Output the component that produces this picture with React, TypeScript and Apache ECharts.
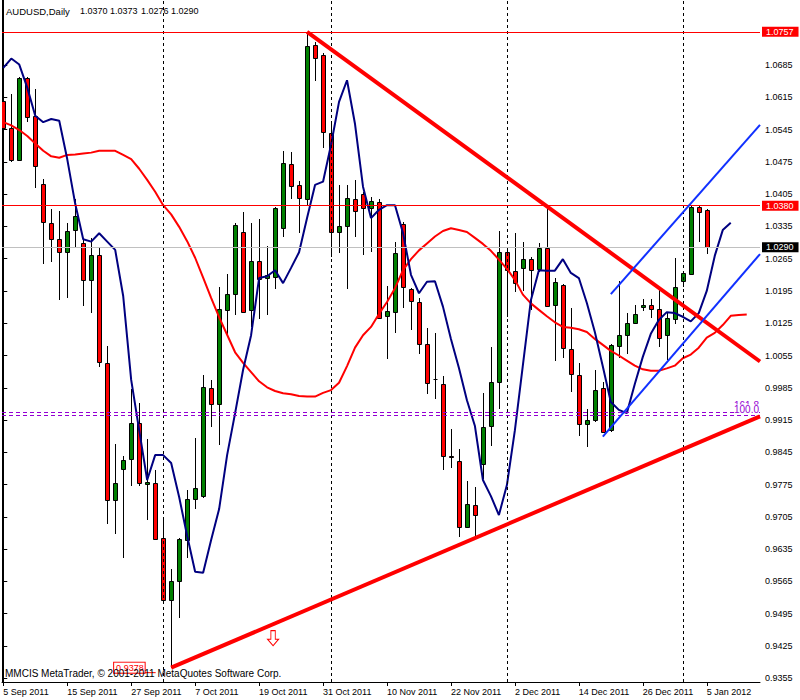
import React, { useEffect, useRef } from "react";
import * as echarts from "echarts";

// ---- data (bar index 0 = 5 Sep 2011, daily bars) ----
const symbolName = "AUDUSD,Daily";
const dateTickBars = [0, 8, 16, 24, 32, 40, 48, 56, 64, 72, 80, 88];
const dateTickLabels = ["5 Sep 2011", "15 Sep 2011", "27 Sep 2011", "7 Oct 2011", "19 Oct 2011", "31 Oct 2011", "10 Nov 2011", "22 Nov 2011", "2 Dec 2011", "14 Dec 2011", "26 Dec 2011", "5 Jan 2012"];
const priceTicks = [1.0685, 1.0615, 1.0545, 1.0475, 1.0405, 1.0335, 1.0265, 1.0195, 1.0125, 1.0055, 0.9985, 0.9915, 0.9845, 0.9775, 0.9705, 0.9635, 0.9565, 0.9495, 0.9425, 0.9355];
const monthStartBars = [20, 41, 63, 85];

const opens = [1.0607, 1.0548, 1.0480, 1.0656, 1.0574, 1.0428, 1.0342, 1.0307, 1.0279, 1.0327, 1.0298, 1.0218, 1.0272, 1.0038, 0.9741, 0.9808, 0.9830, 0.9908, 0.9776, 0.9778, 0.9659, 0.9524, 0.9567, 0.9654, 0.9743, 0.9750, 0.9984, 0.9949, 1.0153, 1.0188, 1.0322, 1.0154, 1.0260, 1.0222, 1.0226, 1.0331, 1.0470, 1.0425, 1.0394, 1.0728, 1.0707, 1.0537, 1.0323, 1.0336, 1.0394, 1.0405, 1.0374, 1.0387, 1.0141, 1.0149, 1.0340, 1.0199, 1.0172, 1.0079, 1.0005, 0.9993, 0.9837, 0.9826, 0.9684, 0.9731, 0.9819, 0.9903, 0.9997, 1.0279, 1.0238, 1.0245, 1.0264, 1.0242, 1.0289, 1.0164, 1.0207, 1.0070, 1.0012, 0.9906, 0.9915, 0.9984, 0.9893, 1.0076, 1.0099, 1.0126, 1.0160, 1.0164, 1.0155, 1.0099, 1.0134, 1.0217, 1.0231, 1.0378, 1.0370];
const highs = [1.0616, 1.0622, 1.0659, 1.0659, 1.0632, 1.0437, 1.0372, 1.0368, 1.0342, 1.0394, 1.0308, 1.0310, 1.0290, 1.0076, 0.9863, 0.9836, 0.9982, 0.9951, 0.9873, 0.9806, 0.9702, 0.9591, 0.9660, 0.9763, 0.9877, 1.0013, 1.0002, 1.0204, 1.0231, 1.0343, 1.0367, 1.0343, 1.0350, 1.0292, 1.0377, 1.0498, 1.0497, 1.0433, 1.0757, 1.0735, 1.0711, 1.0562, 1.0424, 1.0424, 1.0436, 1.0410, 1.0399, 1.0394, 1.0205, 1.0301, 1.0345, 1.0201, 1.0179, 1.0114, 1.0103, 1.0011, 0.9895, 0.9852, 0.9783, 0.9770, 0.9973, 1.0074, 1.0325, 1.0290, 1.0320, 1.0302, 1.0268, 1.0300, 1.0378, 1.0222, 1.0209, 1.0157, 1.0039, 0.9940, 1.0024, 0.9998, 1.0081, 1.0217, 1.0147, 1.0165, 1.0178, 1.0178, 1.0201, 1.0147, 1.0267, 1.0236, 1.0380, 1.0380, 1.0373];
const lows = [1.0509, 1.0475, 1.0478, 1.0562, 1.0418, 1.0253, 1.0258, 1.0175, 1.0179, 1.0291, 1.0163, 1.0147, 1.0031, 0.9689, 0.9667, 0.9616, 0.9773, 0.9773, 0.9698, 0.9654, 0.9522, 0.9378, 0.9485, 0.9616, 0.9723, 0.9747, 0.9901, 0.9861, 1.0099, 1.0142, 1.0147, 1.0116, 1.0134, 1.0142, 1.0199, 1.0311, 1.0394, 1.0320, 1.0381, 1.0651, 1.0504, 1.0269, 1.0277, 1.0199, 1.0313, 1.0273, 1.0279, 1.0134, 1.0048, 1.0103, 1.0159, 1.0110, 1.0058, 0.9971, 0.9960, 0.9807, 0.9810, 0.9662, 0.9680, 0.9659, 0.9787, 0.9859, 0.9939, 1.0139, 1.0193, 1.0195, 1.0154, 1.0237, 1.0160, 1.0044, 1.0049, 0.9976, 0.9881, 0.9857, 0.9910, 0.9887, 0.9889, 1.0049, 1.0058, 1.0123, 1.0152, 1.0137, 1.0074, 1.0045, 1.0123, 1.0204, 1.0229, 1.0302, 1.0276];
const closes = [1.0548, 1.0480, 1.0656, 1.0572, 1.0465, 1.0344, 1.0307, 1.0279, 1.0324, 1.0357, 1.0219, 1.0272, 1.0040, 0.9741, 0.9779, 0.9828, 0.9908, 0.9778, 0.9781, 0.9656, 0.9524, 0.9567, 0.9658, 0.9744, 0.9767, 0.9987, 0.9949, 1.0155, 1.0188, 1.0338, 1.0150, 1.0260, 1.0220, 1.0229, 1.0374, 1.0472, 1.0423, 1.0396, 1.0726, 1.0700, 1.0539, 1.0323, 1.0336, 1.0396, 1.0369, 1.0374, 1.0389, 1.0137, 1.0152, 1.0277, 1.0203, 1.0173, 1.0080, 0.9995, 1.0003, 0.9838, 0.9835, 0.9684, 0.9733, 0.9708, 0.9901, 0.9998, 1.0279, 1.0240, 1.0212, 1.0264, 1.0240, 1.0289, 1.0162, 1.0214, 1.0071, 1.0015, 0.9906, 0.9915, 0.9980, 0.9890, 1.0078, 1.0099, 1.0125, 1.0144, 1.0165, 1.0155, 1.0092, 1.0136, 1.0203, 1.0233, 1.0378, 1.0367, 1.0290];

// navy shifted moving average (bars 0..91)
const navyMA = [1.0679, 1.0699, 1.0686, 1.0636, 1.0575, 1.0561, 1.0568, 1.0564, 1.0481, 1.0384, 1.0307, 1.0302, 1.0320, 1.0302, 1.0284, 1.0184, 1.0002, 0.9893, 0.9785, 0.9839, 0.9839, 0.9822, 0.9748, 0.9664, 0.9586, 0.9584, 0.9655, 0.9722, 0.9839, 0.9930, 1.0024, 1.0099, 1.0223, 1.0227, 1.0240, 1.0212, 1.0245, 1.0279, 1.0353, 1.0425, 1.0432, 1.0512, 1.0605, 1.0652, 1.0557, 1.0421, 1.0353, 1.0371, 1.0381, 1.0381, 1.0321, 1.0230, 1.0190, 1.0215, 1.0216, 1.0161, 1.0091, 1.0028, 0.9958, 0.9902, 0.9785, 0.9750, 0.9709, 0.9774, 0.9893, 1.0034, 1.0175, 1.0240, 1.0239, 1.0239, 1.0264, 1.0234, 1.0223, 1.0169, 1.0106, 1.0031, 0.9954, 0.9937, 0.9930, 0.9993, 1.0052, 1.0102, 1.0132, 1.0149, 1.0147, 1.0139, 1.0129, 1.0147, 1.0195, 1.0271, 1.0327, 1.0343];
// red shifted moving average (bars 0..93)
const redMA = [1.0561, 1.0554, 1.0544, 1.0531, 1.0515, 1.0499, 1.0487, 1.0484, 1.0490, 1.0491, 1.0493, 1.0495, 1.0499, 1.0499, 1.0499, 1.0490, 1.0481, 1.0460, 1.0436, 1.0410, 1.0381, 1.0361, 1.0334, 1.0303, 1.0267, 1.0224, 1.0180, 1.0138, 1.0100, 1.0062, 1.0039, 1.0019, 0.9999, 0.9986, 0.9978, 0.9973, 0.9971, 0.9967, 0.9966, 0.9966, 0.9974, 0.9980, 0.9996, 1.0032, 1.0072, 1.0099, 1.0117, 1.0145, 1.0171, 1.0201, 1.0240, 1.0264, 1.0283, 1.0298, 1.0313, 1.0325, 1.0331, 1.0327, 1.0323, 1.0310, 1.0297, 1.0282, 1.0263, 1.0243, 1.0219, 1.0187, 1.0168, 1.0154, 1.0140, 1.0127, 1.0117, 1.0115, 1.0112, 1.0106, 1.0091, 1.0078, 1.0065, 1.0055, 1.0044, 1.0033, 1.0025, 1.0022, 1.0022, 1.0027, 1.0033, 1.0049, 1.0057, 1.0072, 1.0094, 1.0104, 1.0121, 1.0141, 1.0143, 1.0144];

// trend lines [bar, price]
const descTrend = [[38, 1.0757], [94.66, 1.0042]];
const ascTrend = [[21, 0.9378], [94.66, 0.9923]];
const channelUpper = [[76, 1.0188], [94.66, 1.0555]];
const channelLower = [[75, 0.9879], [94.66, 1.0275]];

const resistanceHigh = 1.0757;
const resistanceMid = 1.0380;
const bidPrice = 1.0290;
const fiboLevels = [0.9933, 0.9925];
const fiboLabels = ["161.8", "100.0"];
const lowMarkBar = 21;
const arrowPos = [33.75, 0.9442];

const FONT = '"Liberation Sans", Arial, sans-serif';

export default function App() {
  const ref = useRef<HTMLDivElement>(null);
  useEffect(() => {
    const chart = echarts.init(ref.current!, null, { renderer: "svg" });
    const n = opens.length;
    const candleData = opens.map((o, i) => [i, o, closes[i], lows[i], highs[i]]);
    const last = n - 1;
    const ohlcText = [opens[last], highs[last], lows[last], closes[last]].map((v) => v.toFixed(4));
    const ohlcX = [80, 110, 141, 171];

    const priceLabel = (bg: string) => ({
      show: true,
      position: "end",
      distance: 2,
      formatter: (p: any) => Number(p.value).toFixed(4),
      backgroundColor: bg,
      color: "#ffffff",
      fontFamily: FONT,
      fontSize: 9,
      padding: [1, 5, 0, 4],
    });

    const option: any = {
      animation: false,
      backgroundColor: "#ffffff",
      grid: { left: 2, right: 40, top: 0, bottom: 18, containLabel: false },
      xAxis: {
        type: "value",
        min: -0.16,
        max: 94.66,
        axisLine: { show: true, lineStyle: { color: "#000", width: 1 } },
        axisTick: { show: true, customValues: dateTickBars, length: 4, lineStyle: { color: "#000" } },
        axisLabel: {
          show: true,
          customValues: dateTickBars,
          formatter: (v: number) => dateTickLabels[dateTickBars.indexOf(Math.round(v))] || "",
          align: "left",
          margin: 5,
          color: "#000",
          fontFamily: FONT,
          fontSize: 9,
        },
        splitLine: { show: false },
      },
      yAxis: [
        {
          type: "value",
          position: "right",
          min: 0.93469,
          max: 1.0826,
          axisLine: { show: true, lineStyle: { color: "#000", width: 1 } },
          axisTick: { show: true, customValues: priceTicks, length: 4, lineStyle: { color: "#000" } },
          axisLabel: {
            show: true,
            customValues: priceTicks,
            formatter: (v: number) => v.toFixed(4),
            margin: 5,
            color: "#000",
            fontFamily: FONT,
            fontSize: 9,
          },
          splitLine: { show: false },
        },
        {
          type: "value",
          position: "left",
          min: 0.93469,
          max: 1.0826,
          axisLine: { show: true, lineStyle: { color: "#000", width: 1 } },
          axisTick: { show: false },
          axisLabel: { show: false },
          splitLine: { show: false },
        },
      ],
      series: [
        {
          type: "line",
          name: "levels",
          data: [],
          z: 1,
          markLine: {
            silent: true,
            precision: 4,
            symbol: ["none", "none"],
            data: [
              ...monthStartBars.map((b) => ({ xAxis: b, lineStyle: { color: "#000", width: 1, type: [3, 3] }, label: { show: false } })),
              { yAxis: bidPrice, lineStyle: { color: "#c0c0c0", width: 1, type: "solid" }, label: priceLabel("#000000") },
              { yAxis: fiboLevels[0], lineStyle: { color: "#9400d3", width: 1, type: [4, 3] }, label: { show: true, position: "insideEndTop", distance: 1, formatter: fiboLabels[0], color: "#9400d3", fontFamily: FONT, fontSize: 10 } },
              { yAxis: fiboLevels[1], lineStyle: { color: "#9400d3", width: 1, type: [4, 3] }, label: { show: true, position: "insideEndTop", distance: 1, formatter: fiboLabels[1], color: "#9400d3", backgroundColor: "#ffffff", padding: [0, 0, 0, 0], fontFamily: FONT, fontSize: 10 } },
            ],
          },
        },
        {
          type: "custom",
          name: "candles",
          z: 2,
          clip: true,
          data: candleData,
          encode: { x: 0, y: [1, 2, 3, 4] },
          renderItem: (params: any, api: any) => {
            const i = api.value(0);
            const o = api.value(1), c = api.value(2), l = api.value(3), h = api.value(4);
            const pO = api.coord([i, o]);
            const pC = api.coord([i, c]);
            const pL = api.coord([i, l]);
            const pH = api.coord([i, h]);
            const x = Math.round(pO[0]) + 0.5;
            const top = Math.round(Math.min(pO[1], pC[1])) + 0.5;
            const bot = Math.round(Math.max(pO[1], pC[1])) + 0.5;
            const fill = c > o ? "#008000" : c < o ? "#ff0000" : "#000000";
            const children: any[] = [
              { type: "line", shape: { x1: x, y1: Math.round(pH[1]), x2: x, y2: Math.round(pL[1]) }, style: { stroke: "#000", lineWidth: 1 } },
            ];
            if (bot - top < 1) {
              children.push({ type: "line", shape: { x1: x - 2, y1: top, x2: x + 2, y2: top }, style: { stroke: "#000", lineWidth: 1 } });
            } else {
              children.push({ type: "rect", shape: { x: x - 2, y: top, width: 4, height: bot - top }, style: { fill, stroke: "#000", lineWidth: 1 } });
            }
            return { type: "group", children };
          },
        },
        {
          type: "line",
          name: "red MA",
          z: 3,
          data: redMA.map((v, i) => [i, v]),
          showSymbol: false,
          symbol: "none",
          lineStyle: { color: "#ff0000", width: 2 },
        },
        {
          type: "line",
          name: "navy MA",
          z: 3,
          data: navyMA.map((v, i) => [i, v]),
          showSymbol: false,
          symbol: "none",
          lineStyle: { color: "#000080", width: 2 },
        },
        {
          type: "line",
          name: "resistance",
          data: [],
          z: 4,
          markLine: {
            silent: true,
            precision: 4,
            symbol: ["none", "none"],
            data: [
              { yAxis: resistanceHigh, lineStyle: { color: "#ff0000", width: 1, type: "solid" }, label: priceLabel("#ff0000") },
              { yAxis: resistanceMid, lineStyle: { color: "#ff0000", width: 1, type: "solid" }, label: priceLabel("#ff0000") },
            ],
          },
        },
        { type: "line", name: "desc", z: 5, data: descTrend, showSymbol: false, symbol: "none", lineStyle: { color: "#ff0000", width: 4 } },
        {
          type: "line",
          name: "asc",
          z: 5,
          data: ascTrend,
          showSymbol: false,
          symbol: "none",
          lineStyle: { color: "#ff0000", width: 4 },
          markPoint: {
            silent: true,
            data: [
              {
                coord: arrowPos,
                symbol: "path://M3,0 L7,0 L7,8 L10,8 L5,14 L0,8 L3,8 Z",
                symbolSize: [11, 15],
                itemStyle: { color: "#ffffff", borderColor: "#ff0000", borderWidth: 1 },
                label: { show: false },
              },
              {
                coord: [lowMarkBar, lows[lowMarkBar]],
                symbol: "rect",
                symbolSize: [11, 1],
                symbolOffset: [-21, 5],
                itemStyle: { color: "#ff0000" },
                label: {
                  show: true,
                  position: "left",
                  distance: 0,
                  offset: [0, -5],
                  formatter: lows[lowMarkBar].toFixed(4),
                  color: "#ff0000",
                  backgroundColor: "#ffffff",
                  borderColor: "#ff0000",
                  borderWidth: 1,
                  padding: [1, 1, 0, 2],
                  fontFamily: FONT,
                  fontSize: 9,
                },
              },
            ],
          },
        },
        { type: "line", name: "chanU", z: 5, data: channelUpper, showSymbol: false, symbol: "none", lineStyle: { color: "#1030ff", width: 2 } },
        { type: "line", name: "chanL", z: 5, data: channelLower, showSymbol: false, symbol: "none", lineStyle: { color: "#1030ff", width: 2 } },
      ],
      graphic: [
        { type: "text", left: 6, top: 6, z: 10, style: { text: symbolName, fontFamily: FONT, fontSize: 9.5, fill: "#000" } },
        ...ohlcText.map((t, k) => ({ type: "text", left: ohlcX[k], top: 6, z: 10, style: { text: t, fontFamily: FONT, fontSize: 9, fill: "#000" } })),
        { type: "text", left: 5, top: 668, z: 10, style: { text: "MMCIS MetaTrader, \u00a9 2001-2011 MetaQuotes Software Corp.", fontFamily: FONT, fontSize: 10, fill: "#000" } },
      ],
    };
    chart.setOption(option);
    return () => chart.dispose();
  }, []);
  return <div ref={ref} style={{ position: "fixed", left: 0, top: 0, width: 800, height: 700, background: "#fff" }} />;
}
